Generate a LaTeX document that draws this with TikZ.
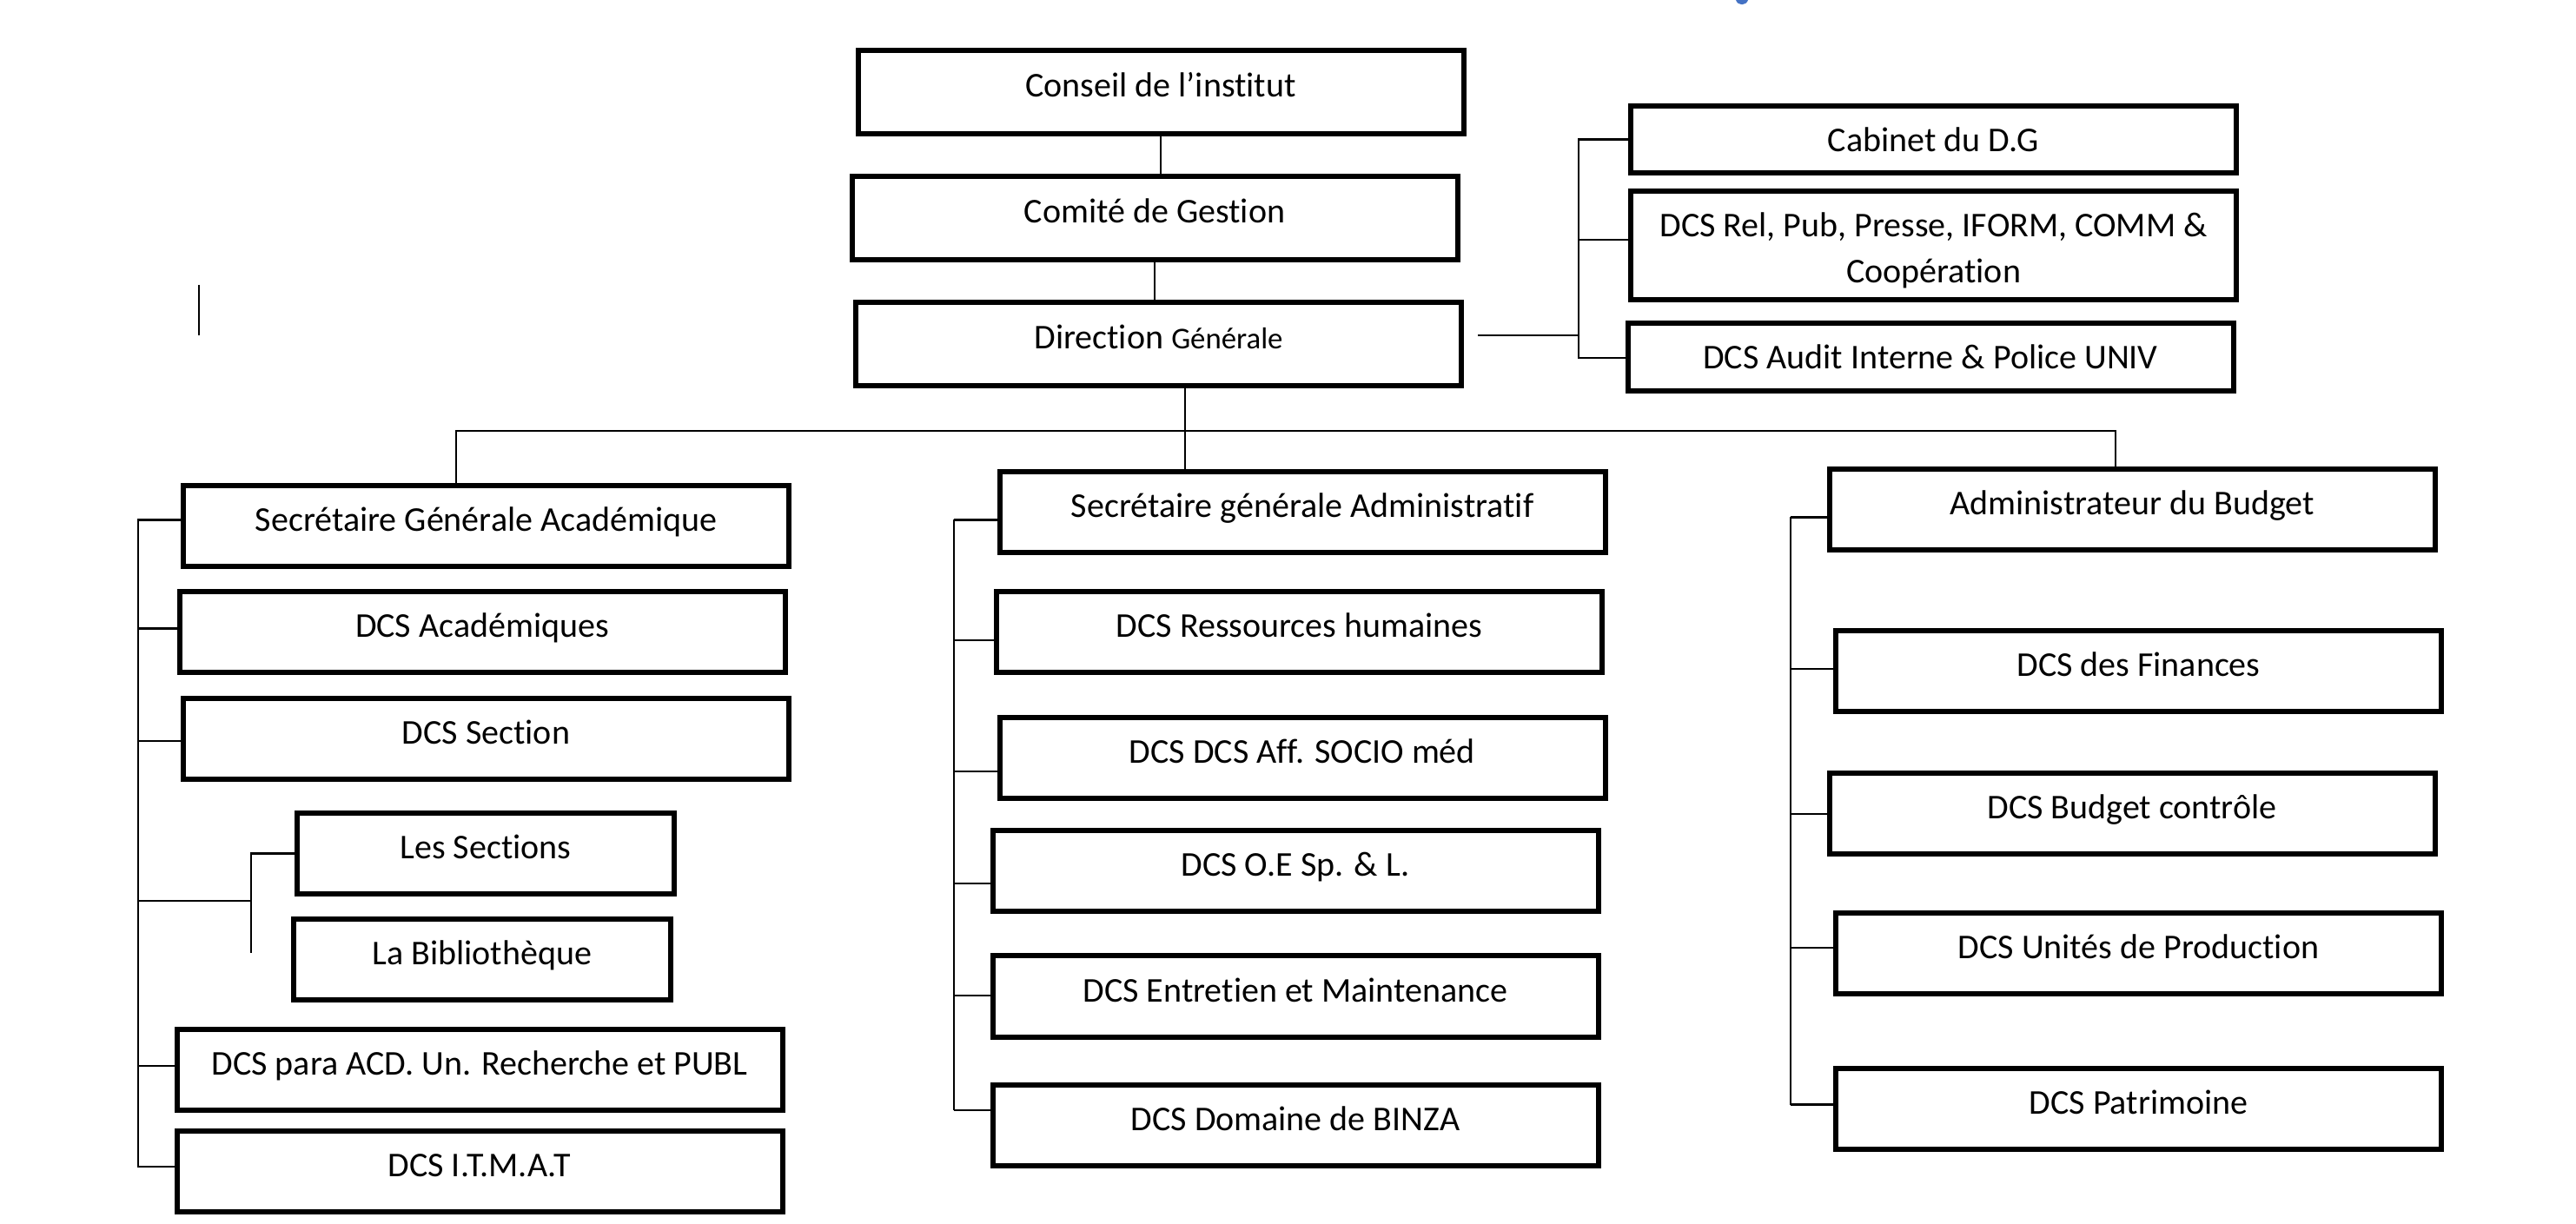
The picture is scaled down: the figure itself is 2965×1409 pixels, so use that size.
\documentclass[tikz,border=0pt]{standalone}
\usepackage{fontspec}
\setmainfont{Carlito}[Ligatures=CommonOff]
\usepackage{xcolor}
\usetikzlibrary{positioning}
\definecolor{markblue}{RGB}{68,114,196}
\tikzset{
	unit/.style={draw, rectangle, line width=1.5pt, inner sep=0pt,
		minimum width=174.25pt, minimum height=23.25pt,
		text height=7pt, text depth=4pt, font=\fontsize{10}{12}\selectfont},
	topunit/.style={unit, minimum height=24pt},
	sideunit/.style={unit, text depth=0pt},
	link/.style={line width=0.6pt}
}

\begin{document}
\begin{tikzpicture}[x=0.25pt, y=-0.25pt,
	subunit/.style={unit, minimum width=108.5pt}]
	\useasboundingbox (0,0) rectangle (2965,1409);
	% top of the chart
	\node[topunit] (cons) at (1336,106) {Conseil de l'institut};
	\node[topunit] (comi) at (1329,251) {Comité de Gestion};
	\node[topunit] (dirg) at (1333.5,396) {Direction {\fontsize{8.7}{10}\selectfont Générale}};
	\draw[link] (cons.south) -- (cons.south |- comi.north);
	\draw[link] (comi.south) -- (comi.south |- dirg.north);
	% services attached to the D.G
	\node[sideunit, minimum height=19.25pt] (cab) at (2225.5,160.5) {Cabinet du D.G};
	\node[unit, minimum height=31.25pt, align=center, text height=24pt, text depth=2.5pt] (rel) at (2225.5,282.5)
		{DCS Rel, Pub, Presse, IFORM, COMM \&\\[1.25pt] Coopération};
	\node[sideunit, minimum height=19.5pt] (aud) at (2222,411) {DCS Audit Interne \& Police UNIV};
	\coordinate (rbus) at (1817,386);
	\draw[link] ([xshift=4pt]dirg.east |- rbus) -- (rbus);
	\draw[link] (cab.west) -| (rbus) |- ([yshift=-0.25pt]aud.west);
	\draw[link] ([yshift=1.6pt]rel.west -| rbus) -- ([yshift=1.6pt]rel.west);
	% the three branches
	\node[unit] (sga) at (559.5,605.5) {Secrétaire Générale Académique};
	\node[unit] (acad) at (555,728) {DCS Académiques};
	\node[unit] (sect) at (559.5,850.5) {DCS Section};
	\node[subunit] (les) at (559,982.5) {Les Sections};
	\node[subunit] (bib) at (555,1104.5) {La Bibliothèque};
	\node[unit] (para) at (552,1231) {DCS para ACD. Un. Recherche et PUBL};
	\node[unit] (itm) at (552,1348) {DCS I.T.M.A.T};
	\node[unit] (sgad) at (1499,589.5) {Secrétaire générale Administratif};
	\node[unit] (rh) at (1495.5,728) {DCS Ressources humaines};
	\node[unit] (soc) at (1499,873) {DCS DCS Aff. SOCIO méd};
	\node[unit] (oe) at (1491,1002.5) {DCS O.E Sp. \& L.};
	\node[unit] (ent) at (1491,1147) {DCS Entretien et Maintenance};
	\node[unit] (binz) at (1491,1295.5) {DCS Domaine de BINZA};
	\node[unit] (adb) at (2454,586.5) {Administrateur du Budget};
	\node[unit] (fin) at (2461.5,773) {DCS des Finances};
	\node[unit] (bud) at (2454,937) {DCS Budget contrôle};
	\node[unit] (uni) at (2461.5,1098) {DCS Unités de Production};
	\node[unit] (pat) at (2461.5,1276) {DCS Patrimoine};
	% bus under the D.G
	\coordinate (hub) at (1364,496);
	\coordinate (bl) at (525,496);
	\coordinate (br) at (2435,496);
	\draw[link] (dirg.south -| hub) -- (hub) -- (hub |- sgad.north);
	\draw[link] (bl |- sga.north) -- (bl) -- (br) -- (br |- adb.north);
	% left branch
	\coordinate (lbus) at (159,0);
	\draw[link] ([yshift=1.75pt]sga.west) -- ([yshift=1.75pt]sga.west -| lbus)
		-- ([yshift=1.25pt]itm.west -| lbus) -- ([yshift=1.25pt]itm.west);
	\foreach \n/\s in {acad/1.1, sect/-0.6, para/1}
		\draw[link] ([yshift=\s pt]\n.west -| lbus) -- ([yshift=\s pt]\n.west);
	\coordinate (sub) at (289,1037);
	\draw[link] (lbus |- sub) -- (sub);
	\draw[link] (les.west) -- (les.west -| sub) -- ([yshift=1.9pt]bib.west -| sub);
	% middle branch
	\coordinate (mbus) at (1098,0);
	\draw[link] ([yshift=-2.25pt]sgad.west -| mbus) -- ([yshift=4.4pt]binz.west -| mbus);
	\foreach \n/\s in {sgad/-2.25, rh/-2.25, soc/-3.75, oe/-3.6, ent/0.25, binz/4.4}
		\draw[link] ([yshift=\s pt]\n.west -| mbus) -- ([yshift=\s pt]\n.west);
	% right branch
	\coordinate (rb) at (2061,0);
	\draw[link] ([yshift=-2.25pt]adb.west -| rb) -- ([yshift=1.1pt]pat.west -| rb);
	\foreach \n/\s in {adb/-2.25, fin/0.8, bud/0, uni/1.75, pat/1.1}
		\draw[link] ([yshift=\s pt]\n.west -| rb) -- ([yshift=\s pt]\n.west);
	% stray marks
	\draw[link] (229,328) -- (229,386);
	\fill[markblue] (1998,0) .. controls (2000,7) and (2010,7) .. (2012,0) -- cycle;
\end{tikzpicture}
\end{document}
